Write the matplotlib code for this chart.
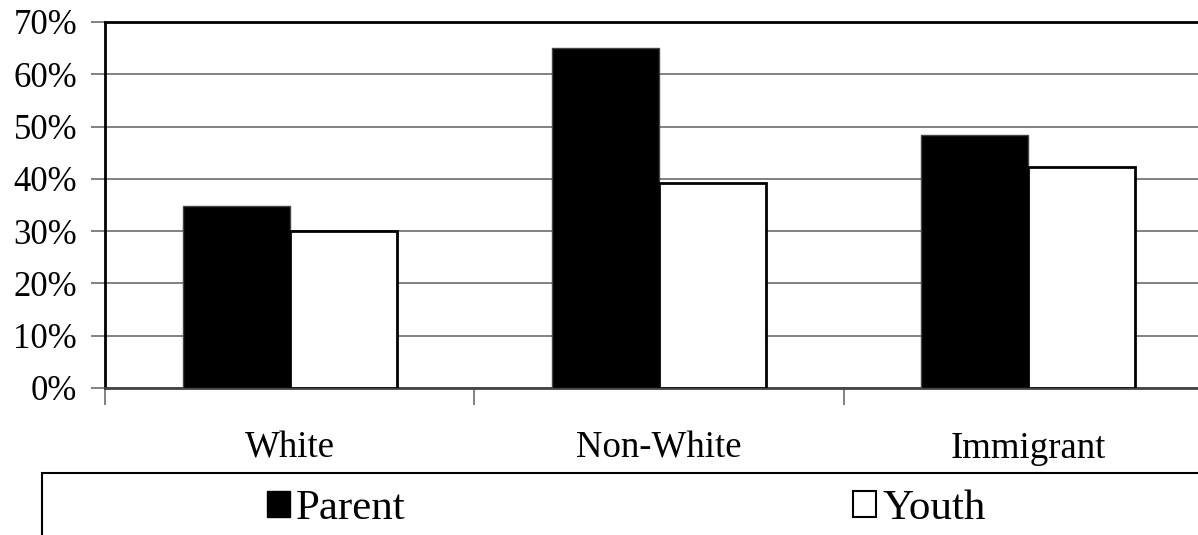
import numpy as np
import matplotlib
matplotlib.use('Agg')
import matplotlib.pyplot as plt
from matplotlib.patches import Rectangle, Patch
from matplotlib.ticker import FixedLocator, PercentFormatter

# values (percent)
groups = ['White', 'Non-White', 'Immigrant']
parent = [34.9, 65.1, 48.3]
youth = [30.1, 39.2, 42.2]
yticks = [0, 10, 20, 30, 40, 50, 60, 70]

plt.rcParams['font.family'] = ['Liberation Serif', 'DejaVu Serif']
plt.rcParams['font.size'] = 25

fig = plt.figure(figsize=(11.98, 5.35), dpi=100)
ax = fig.add_axes([105/1198, 147/535, 1108/1198, 366/535])

x = np.arange(len(groups))
w = 0.29
ax.bar(x - w/2, parent, w, color='black', edgecolor='#444444', linewidth=1, zorder=3)
ax.bar(x + w/2, youth, w, color='white', edgecolor='black', linewidth=2, zorder=3)

ax.set_xlim(-0.5, 2.5)
ax.set_ylim(0, 70)
ax.set_yticks(yticks)
ax.yaxis.set_major_formatter(PercentFormatter(decimals=0))
ax.yaxis.grid(True, color='#777777', linewidth=1.3, zorder=0)

ax.set_xticks(x)
ax.set_xticklabels(groups, fontsize=26.5)
ax.xaxis.set_minor_locator(FixedLocator([-0.5, 0.5, 1.5, 2.5]))
ax.tick_params(axis='x', which='major', length=0, pad=31)
ax.tick_params(axis='x', which='minor', length=12, width=1.3, color='#777777')
ax.tick_params(axis='y', length=10, width=1.3, color='#777777', pad=10)

for s in ['left', 'top', 'right']:
    ax.spines[s].set_color('black')
    ax.spines[s].set_linewidth(2)
ax.spines['bottom'].set_color('#444444')
ax.spines['bottom'].set_linewidth(2)

# legend box, runs off the right and bottom of the picture
fig.patches.append(Rectangle((42/1198, -0.05), 1.1, (62/535) + 0.05,
                             transform=fig.transFigure, fill=False,
                             edgecolor='black', linewidth=1.5))
handles = [Patch(facecolor='black', edgecolor='black', label='Parent'),
           Patch(facecolor='white', edgecolor='black', linewidth=1.5, label='Youth')]
fig.legend(handles=handles, ncol=2, frameon=False, loc='center left',
           bbox_to_anchor=(250/1198, 26/535), fontsize=31,
           handlelength=0.52, handleheight=0.52, handletextpad=0.15,
           columnspacing=10.4, borderaxespad=0)

fig.savefig('out.png', dpi=100)
